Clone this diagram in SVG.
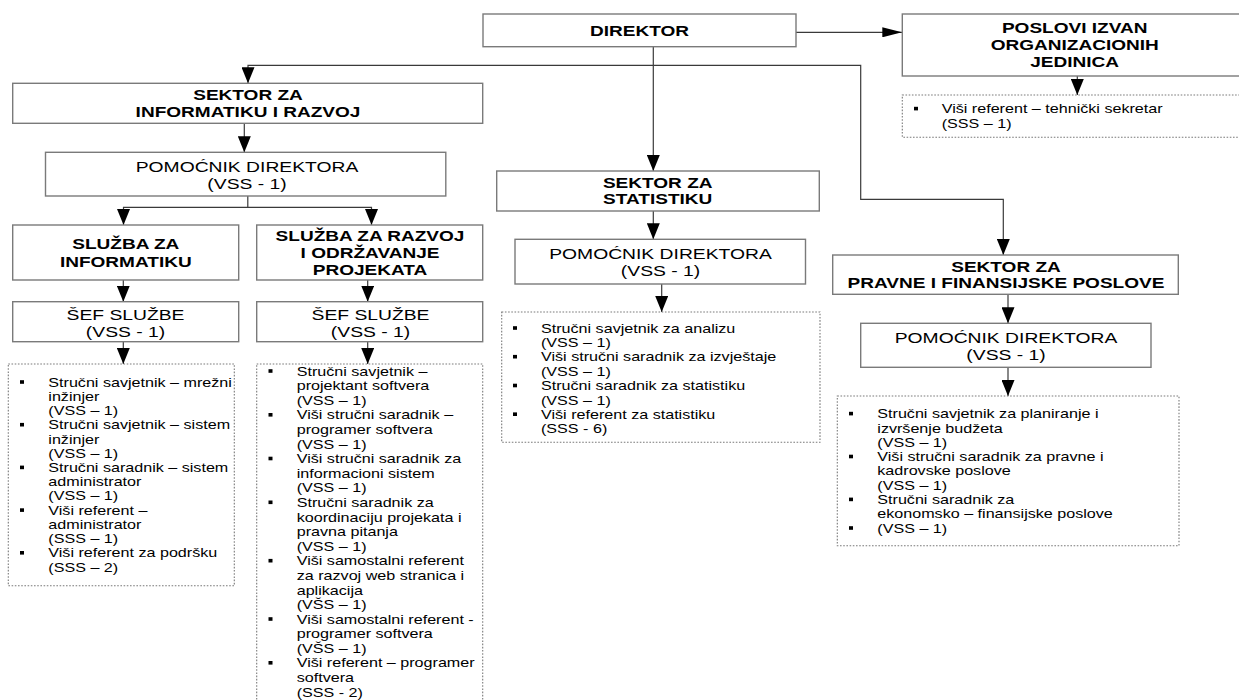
<svg xmlns="http://www.w3.org/2000/svg" xmlns:xlink="http://www.w3.org/1999/xlink" width="1239" height="700" viewBox="0 0 1239 700">
<style>
.box{fill:#fff;stroke:#7a7a7a;stroke-width:1.4}
.dot{fill:#fff;stroke:#7a7a7a;stroke-width:1.1;stroke-dasharray:1.6 1.6}
.con{fill:none;stroke:#3a3a3a;stroke-width:1.2}
.b{font-family:"Liberation Sans",Arial,sans-serif;font-weight:bold;font-size:15px;text-anchor:middle;fill:#000}
.r{font-family:"Liberation Sans",Arial,sans-serif;font-size:15.2px;text-anchor:middle;fill:#000}
.l{font-family:"Liberation Sans",Arial,sans-serif;font-size:12.7px;fill:#000}
.bu{fill:#000}
</style>
<defs>
<marker id="av" viewBox="0 0 16 13" markerWidth="16" markerHeight="13" refX="16" refY="6.5" orient="auto" markerUnits="userSpaceOnUse"><path d="M0,0 L16,6.5 L0,13 Z" fill="#000"/></marker>
<marker id="ah" viewBox="0 0 20 10" markerWidth="20" markerHeight="10" refX="20" refY="5" orient="auto" markerUnits="userSpaceOnUse"><path d="M0,0 L20,5 L0,10 Z" fill="#000"/></marker>
<rect id="bul" width="4" height="3.6"/>
</defs>
<rect width="1239" height="700" fill="#fff"/>

<g id="connectors">
<path class="con" d="M796,32.3 H902.3" marker-end="url(#ah)"/>
<path class="con" d="M653.3,46.7 V171" marker-end="url(#av)"/>
<path class="con" d="M653.3,65.3 H248 V83.3" marker-end="url(#av)"/>
<path class="con" d="M653.3,65.3 H860.7 V199.3 H1003.3 V255" marker-end="url(#av)"/>
<path class="con" d="M1077.3,76 V95" marker-end="url(#av)"/>
<path class="con" d="M244.3,123.3 V152.3" marker-end="url(#av)"/>
<path class="con" d="M247.8,196 V207.3 H123.5 V225" marker-end="url(#av)"/>
<path class="con" d="M247.8,207.3 H371.5 V225" marker-end="url(#av)"/>
<path class="con" d="M123.3,280 V301.7" marker-end="url(#av)"/>
<path class="con" d="M123.3,341.7 V364" marker-end="url(#av)"/>
<path class="con" d="M367.7,280 V301.7" marker-end="url(#av)"/>
<path class="con" d="M367.7,341.7 V364" marker-end="url(#av)"/>
<path class="con" d="M653.3,211 V239.3" marker-end="url(#av)"/>
<path class="con" d="M661.7,284 V312" marker-end="url(#av)"/>
<path class="con" d="M1008,294.3 V323.3" marker-end="url(#av)"/>
<path class="con" d="M1008,367.3 V396" marker-end="url(#av)"/>
</g>

<g id="direktor">
<rect class="box" x="483" y="14" width="313" height="32.7"/>
<text class="b" transform="matrix(1.27 0 0 1 639.5 0)"><tspan x="0" y="36">DIREKTOR</tspan></text>
</g>

<g id="poslovi">
<rect class="box" x="902.3" y="14" width="345" height="62"/>
<text class="b" transform="matrix(1.27 0 0 1 1074.7 0)"><tspan x="0" y="33.5">POSLOVI IZVAN</tspan><tspan x="0" y="50.5">ORGANIZACIONIH</tspan><tspan x="0" y="67.5">JEDINICA</tspan></text>
</g>

<g id="poslovi-lista">
<rect class="dot" x="902.3" y="95" width="345" height="42.3"/>
<use xlink:href="#bul" class="bu" x="914" y="106.8"/>
<text class="l" transform="matrix(1.27 0 0 1 941.7 0)"><tspan x="0" y="113.3">Viši referent – tehnički sekretar</tspan><tspan x="0" y="128.3">(SSS – 1)</tspan></text>
</g>

<g id="sektor-informatika">
<rect class="box" x="12.7" y="83.3" width="470" height="40"/>
<text class="b" transform="matrix(1.27 0 0 1 248 0)"><tspan x="0" y="100">SEKTOR ZA</tspan><tspan x="0" y="116.7">INFORMATIKU I RAZVOJ</tspan></text>
</g>

<g id="pomocnik-1">
<rect class="box" x="45.5" y="152.3" width="400.3" height="43.7"/>
<text class="r" transform="matrix(1.27 0 0 1 247 0)"><tspan x="0" y="172.3">POMOĆNIK DIREKTORA</tspan><tspan x="0" y="189.1">(VSS - 1)</tspan></text>
</g>

<g id="sluzba-informatika">
<rect class="box" x="12.7" y="225" width="226" height="55"/>
<text class="b" transform="matrix(1.27 0 0 1 125.8 0)"><tspan x="0" y="249.3">SLUŽBA ZA</tspan><tspan x="0" y="266.7">INFORMATIKU</tspan></text>
</g>

<g id="sluzba-razvoj">
<rect class="box" x="256.7" y="225" width="226" height="55"/>
<text class="b" transform="matrix(1.27 0 0 1 370 0)"><tspan x="0" y="240.7">SLUŽBA ZA RAZVOJ</tspan><tspan x="0" y="257.7">I ODRŽAVANJE</tspan><tspan x="0" y="275">PROJEKATA</tspan></text>
</g>

<g id="sef-1">
<rect class="box" x="12.7" y="301.7" width="226" height="40"/>
<text class="r" transform="matrix(1.27 0 0 1 125.5 0)"><tspan x="0" y="320">ŠEF SLUŽBE</tspan><tspan x="0" y="337.3">(VSS - 1)</tspan></text>
</g>

<g id="sef-2">
<rect class="box" x="256.7" y="301.7" width="226" height="40"/>
<text class="r" transform="matrix(1.27 0 0 1 370.5 0)"><tspan x="0" y="320">ŠEF SLUŽBE</tspan><tspan x="0" y="337.3">(VSS - 1)</tspan></text>
</g>

<g id="lista-1">
<rect class="dot" x="8.3" y="364" width="226" height="221.7"/>
<use xlink:href="#bul" class="bu" x="20" y="380.2"/>
<use xlink:href="#bul" class="bu" x="20" y="422.9"/>
<use xlink:href="#bul" class="bu" x="20" y="465.6"/>
<use xlink:href="#bul" class="bu" x="20" y="508.3"/>
<use xlink:href="#bul" class="bu" x="20" y="551"/>
<text class="l" transform="matrix(1.27 0 0 1 48.3 0)"><tspan x="0" y="386.7">Stručni savjetnik – mrežni</tspan><tspan x="0" y="400.9">inžinjer</tspan><tspan x="0" y="415.2">(VSS – 1)</tspan><tspan x="0" y="429.4">Stručni savjetnik – sistem</tspan><tspan x="0" y="443.6">inžinjer</tspan><tspan x="0" y="457.9">(VSS – 1)</tspan><tspan x="0" y="472.1">Stručni saradnik – sistem</tspan><tspan x="0" y="486.3">administrator</tspan><tspan x="0" y="500.5">(VSS – 1)</tspan><tspan x="0" y="514.8">Viši referent –</tspan><tspan x="0" y="529">administrator</tspan><tspan x="0" y="543.2">(SSS – 1)</tspan><tspan x="0" y="557.5">Viši referent za podršku</tspan><tspan x="0" y="571.7">(SSS – 2)</tspan></text>
</g>

<g id="lista-2">
<rect class="dot" x="256.7" y="364" width="226" height="345"/>
<use xlink:href="#bul" class="bu" x="268.5" y="369.2"/>
<use xlink:href="#bul" class="bu" x="268.5" y="413"/>
<use xlink:href="#bul" class="bu" x="268.5" y="456.7"/>
<use xlink:href="#bul" class="bu" x="268.5" y="500.5"/>
<use xlink:href="#bul" class="bu" x="268.5" y="558.9"/>
<use xlink:href="#bul" class="bu" x="268.5" y="617.2"/>
<use xlink:href="#bul" class="bu" x="268.5" y="661"/>
<text class="l" transform="matrix(1.27 0 0 1 296.7 0)"><tspan x="0" y="375.7">Stručni savjetnik –</tspan><tspan x="0" y="390.3">projektant softvera</tspan><tspan x="0" y="404.9">(VSS – 1)</tspan><tspan x="0" y="419.5">Viši stručni saradnik –</tspan><tspan x="0" y="434.1">programer softvera</tspan><tspan x="0" y="448.7">(VSS – 1)</tspan><tspan x="0" y="463.2">Viši stručni saradnik za</tspan><tspan x="0" y="477.8">informacioni sistem</tspan><tspan x="0" y="492.4">(VSS – 1)</tspan><tspan x="0" y="507">Stručni saradnik za</tspan><tspan x="0" y="521.6">koordinaciju projekata i</tspan><tspan x="0" y="536.2">pravna pitanja</tspan><tspan x="0" y="550.8">(VSS – 1)</tspan><tspan x="0" y="565.4">Viši samostalni referent</tspan><tspan x="0" y="580">za razvoj web stranica i</tspan><tspan x="0" y="594.6">aplikacija</tspan><tspan x="0" y="609.1">(VŠS – 1)</tspan><tspan x="0" y="623.7">Viši samostalni referent -</tspan><tspan x="0" y="638.3">programer softvera</tspan><tspan x="0" y="652.9">(VŠS – 1)</tspan><tspan x="0" y="667.5">Viši referent – programer</tspan><tspan x="0" y="682.1">softvera</tspan><tspan x="0" y="696.7">(SSS - 2)</tspan></text>
</g>

<g id="sektor-statistika">
<rect class="box" x="496.7" y="171" width="322.6" height="40"/>
<text class="b" transform="matrix(1.27 0 0 1 657.7 0)"><tspan x="0" y="187.7">SEKTOR ZA</tspan><tspan x="0" y="204.3">STATISTIKU</tspan></text>
</g>

<g id="pomocnik-2">
<rect class="box" x="515" y="239.3" width="290.5" height="44.7"/>
<text class="r" transform="matrix(1.27 0 0 1 660.5 0)"><tspan x="0" y="259.5">POMOĆNIK DIREKTORA</tspan><tspan x="0" y="276.5">(VSS - 1)</tspan></text>
</g>

<g id="lista-3">
<rect class="dot" x="501.7" y="312" width="318.3" height="130.3"/>
<use xlink:href="#bul" class="bu" x="513" y="326.2"/>
<use xlink:href="#bul" class="bu" x="513" y="354.9"/>
<use xlink:href="#bul" class="bu" x="513" y="383.7"/>
<use xlink:href="#bul" class="bu" x="513" y="412.4"/>
<text class="l" transform="matrix(1.27 0 0 1 541 0)"><tspan x="0" y="332.7">Stručni savjetnik za analizu</tspan><tspan x="0" y="347.1">(VSS – 1)</tspan><tspan x="0" y="361.4">Viši stručni saradnik za izvještaje</tspan><tspan x="0" y="375.8">(VSS – 1)</tspan><tspan x="0" y="390.2">Stručni saradnik za statistiku</tspan><tspan x="0" y="404.6">(VSS – 1)</tspan><tspan x="0" y="418.9">Viši referent za statistiku</tspan><tspan x="0" y="433.3">(SSS - 6)</tspan></text>
</g>

<g id="sektor-pravne">
<rect class="box" x="832.7" y="255" width="345.6" height="39.3"/>
<text class="b" transform="matrix(1.27 0 0 1 1006 0)"><tspan x="0" y="271.7">SEKTOR ZA</tspan><tspan x="0" y="288.3">PRAVNE I FINANSIJSKE POSLOVE</tspan></text>
</g>

<g id="pomocnik-3">
<rect class="box" x="860.7" y="323.3" width="290.3" height="44"/>
<text class="r" transform="matrix(1.27 0 0 1 1006 0)"><tspan x="0" y="342.7">POMOĆNIK DIREKTORA</tspan><tspan x="0" y="360">(VSS - 1)</tspan></text>
</g>

<g id="lista-4">
<rect class="dot" x="837.3" y="396" width="341.7" height="149.7"/>
<use xlink:href="#bul" class="bu" x="849" y="411.8"/>
<use xlink:href="#bul" class="bu" x="849" y="454.7"/>
<use xlink:href="#bul" class="bu" x="849" y="497.6"/>
<use xlink:href="#bul" class="bu" x="849" y="526.2"/>
<text class="l" transform="matrix(1.27 0 0 1 877.3 0)"><tspan x="0" y="418.3">Stručni savjetnik za planiranje i</tspan><tspan x="0" y="432.6">izvršenje budžeta</tspan><tspan x="0" y="446.9">(VSS – 1)</tspan><tspan x="0" y="461.2">Viši stručni saradnik za pravne i</tspan><tspan x="0" y="475.5">kadrovske poslove</tspan><tspan x="0" y="489.8">(VSS – 1)</tspan><tspan x="0" y="504.1">Stručni saradnik za</tspan><tspan x="0" y="518.4">ekonomsko – finansijske poslove</tspan><tspan x="0" y="532.7">(VSS – 1)</tspan></text>
</g>
</svg>
